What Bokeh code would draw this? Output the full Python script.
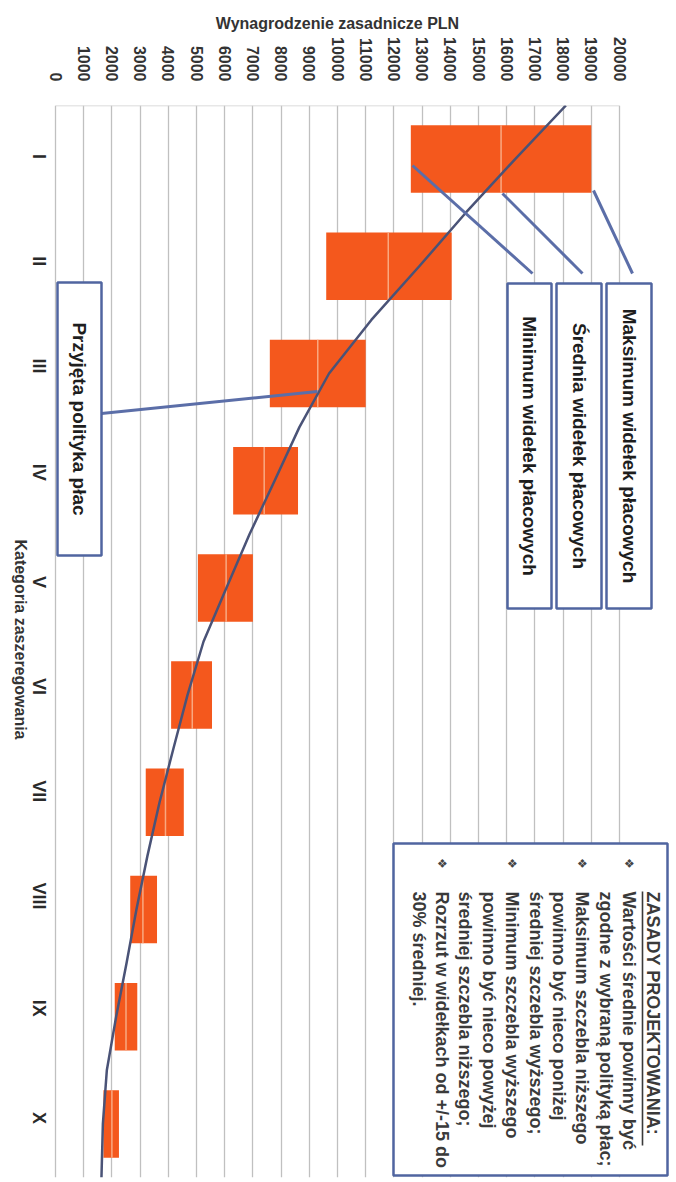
import math
from bokeh.plotting import figure
from bokeh.models import Range1d, FixedTicker, Label, LinearAxis
from bokeh.embed import file_html
from bokeh.resources import INLINE

# ---------------- data ----------------
categories = ["I", "II", "III", "IV", "V", "VI", "VII", "VIII", "IX", "X"]
range_min = [12600, 9600, 7600, 6300, 5050, 4100, 3200, 2650, 2100, 1700]
range_avg = [15800, 11800, 9300, 7400, 6050, 4850, 3900, 3100, 2500, 2000]
range_max = [19000, 14050, 11000, 8600, 7000, 5550, 4550, 3600, 2900, 2250]
# accepted pay-policy curve, read at every half category (0.5 ... 10.5)
policy_pos = [0.5, 1, 1.5, 2, 2.5, 3, 3.5, 4, 4.5, 5, 5.5, 6, 6.5, 7, 7.5, 8, 8.5, 9, 9.5, 10, 10.5]
policy_val = [18100, 16300, 14550, 12900, 11200, 9700, 8650, 7770, 6880, 6060, 5250,
              4680, 4180, 3690, 3260, 2870, 2520, 2150, 1820, 1680, 1630]
salary_ticks = [0, 1000, 2000, 3000, 4000, 5000, 6000, 7000, 8000, 9000, 10000,
                11000, 12000, 13000, 14000, 15000, 16000, 17000, 18000, 19000, 20000]
cat_pos = [1, 2, 3, 4, 5, 6, 7, 8, 9, 10]

x_title = "Wynagrodzenie zasadnicze PLN"
y_title = "Kategoria zaszeregowania"

rules_lines = [
    "ZASADY PROJEKTOWANIA:",
    "Wartości średnie powinny być",
    "zgodne z wybraną polityką płac;",
    "Maksimum szczebla niższego",
    "powinno być nieco poniżej",
    "średniej szczebla wyższego;",
    "Minimum szczebla wyższego",
    "powinno być nieco powyżej",
    "średniej szczebla niższego;",
    "Rozrzut w widełkach od +/-15 do",
    "30% średniej.",
]
bullet_lines = [1, 3, 6, 9]

# ---------------- layout ----------------
W, H = 676, 1182
ZERO_PX = 55                 # pixel column of salary 0
FL, FR, FT, FB = 44, 672, 105, 1177   # frame edges (frame starts a bit left of 0)
PX_PER_K = 28.2
PX_PER_CAT = (FB - FT) / 10.0


def dx(px):
    return (px - ZERO_PX) / PX_PER_K * 1000.0


def dy(py):
    return 0.5 + (py - FT) / PX_PER_CAT


ORANGE = "#F4581D"
BOX_BLUE = "#5065A0"
LEAD_BLUE = "#5B6EA8"
FONT = "Liberation Sans"

p = figure(width=W, height=H, x_range=Range1d(dx(FL), dx(FR)), y_range=Range1d(10.5, 0.5),
           x_axis_location="above", output_backend="svg", toolbar_location=None,
           min_border_left=FL, min_border_right=W - FR, min_border_top=FT,
           min_border_bottom=H - FB)
p.outline_line_color = None
p.background_fill_color = "white"


def plain_axis(ax):
    ax.axis_line_color = None
    ax.major_tick_line_color = None
    ax.minor_tick_line_color = None
    ax.major_label_text_font = FONT
    ax.major_label_text_font_style = "bold"


# salary axis (top)
xa = p.xaxis[0]
xa.ticker = FixedTicker(ticks=salary_ticks)
plain_axis(xa)
xa.major_label_orientation = -math.pi / 2
xa.major_label_standoff = 18
xa.major_label_text_font_size = "16px"
xa.major_label_text_color = "#333333"

# salary axis title, centred on the 0..20000 scale
x_mid = (salary_ticks[0] + salary_ticks[-1]) / 2
xt = LinearAxis(ticker=FixedTicker(ticks=[x_mid]), major_label_overrides={x_mid: x_title})
plain_axis(xt)
xt.major_label_standoff = -3
xt.major_label_text_font_size = "16px"
xt.major_label_text_color = "#333333"
p.add_layout(xt, "above")

# category axis (left)
ya = p.yaxis[0]
ya.ticker = FixedTicker(ticks=cat_pos)
ya.major_label_overrides = {pos: c for pos, c in zip(cat_pos, categories)}
plain_axis(ya)
ya.major_label_orientation = -math.pi / 2
ya.major_label_standoff = 0
ya.major_label_text_line_height = 0.8
ya.major_label_text_font_size = "18px"
ya.major_label_text_color = "#2a2a2a"

# category axis title, reading top-to-bottom like the other rotated texts;
# the rotated label ends at its anchor, so the anchor sits half a title length
# below the middle of the plot (pixel row 641)
y_title_at = dy(641 + 98)
yt = LinearAxis(ticker=FixedTicker(ticks=[y_title_at]),
                major_label_overrides={y_title_at: y_title})
plain_axis(yt)
yt.major_label_orientation = -math.pi / 2
yt.major_label_standoff = -11
yt.major_label_text_line_height = 0.8
yt.major_label_text_font_size = "16px"
yt.major_label_text_color = "#333333"
p.add_layout(yt, "left")

p.xgrid.ticker = FixedTicker(ticks=salary_ticks)
p.xgrid.grid_line_color = "#c0c0c0"
p.xgrid.grid_line_width = 1.3
p.ygrid.grid_line_color = None

# top border of the plot area
p.segment(x0=[salary_ticks[0]], x1=[salary_ticks[-1]], y0=[0.5], y1=[0.5],
          line_color="#cfcfcf", line_width=1.3)

# salary ranges
BAR_H = 0.63
p.hbar(y=cat_pos, left=range_min, right=range_avg, height=BAR_H,
       fill_color=ORANGE, line_color=None)
p.hbar(y=cat_pos, left=range_avg, right=range_max, height=BAR_H,
       fill_color=ORANGE, line_color=None)
p.segment(x0=range_avg, x1=range_avg,
          y0=[c - BAR_H / 2 for c in cat_pos], y1=[c + BAR_H / 2 for c in cat_pos],
          line_color="#F9A880", line_width=1.5)

# pay-policy curve
p.line(x=policy_val, y=policy_pos, line_color="#4A5377", line_width=2.5,
       line_join="round")

# leader lines (pixel anchors converted to data space)
leaders = [((593, 190), (632, 273)),   # maksimum
           ((502, 193), (582, 273)),   # srednia
           ((412, 165), (532, 273)),   # minimum
           ((317, 391), (101, 413))]   # polityka
p.segment(x0=[dx(a[0]) for a, b in leaders], y0=[dy(a[1]) for a, b in leaders],
          x1=[dx(b[0]) for a, b in leaders], y1=[dy(b[1]) for a, b in leaders],
          line_color=LEAD_BLUE, line_width=3)

# callout boxes
boxes = [(606, 651, 283, 608, "Maksimum widełek płacowych"),
         (556, 601, 283, 608, "Średnia widełek płacowych"),
         (507, 551, 283, 608, "Minimum widełek płacowych"),
         (57, 101, 282, 555, "Przyjęta polityka płac")]
p.quad(left=[dx(b[0]) for b in boxes], right=[dx(b[1]) for b in boxes],
       top=[dy(b[2]) for b in boxes], bottom=[dy(b[3]) for b in boxes],
       fill_color="white", line_color=BOX_BLUE, line_width=2.5)
for l, r, t, b, txt in boxes:
    p.add_layout(Label(x=dx((l + r) / 2), y=dy((t + b) / 2), text=txt,
                       angle=-math.pi / 2, text_align="center", text_baseline="middle",
                       text_font=FONT, text_font_style="bold",
                       text_font_size="19px", text_color="#1e1e1e"))

# rules box
RB = (393, 667, 843, 1175)
p.quad(left=[dx(RB[0])], right=[dx(RB[1])], top=[dy(RB[2])], bottom=[dy(RB[3])],
       fill_color="white", line_color=BOX_BLUE, line_width=2.5)
LINE0_X, LINE_STEP, TEXT_Y = 652, 23.4, 891
for i, line in enumerate(rules_lines):
    cx = LINE0_X - LINE_STEP * i
    p.add_layout(Label(x=dx(cx), y=dy(TEXT_Y), text=line, angle=-math.pi / 2,
                       text_align="left", text_baseline="middle",
                       text_font=FONT, text_font_style="bold",
                       text_font_size="18px", text_color="#3a3a3a"))
    if i in bullet_lines:
        p.add_layout(Label(x=dx(cx), y=dy(863), text="❖", angle=-math.pi / 2,
                           text_align="center", text_baseline="middle",
                           text_font="DejaVu Sans", text_font_size="12px",
                           text_color="#444444"))
# underline of the title
p.segment(x0=[dx(LINE0_X - 10)], x1=[dx(LINE0_X - 10)], y0=[dy(TEXT_Y)], y1=[dy(TEXT_Y + 254)],
          line_color="#3a3a3a", line_width=1.6)

open("out.html", "w").write(file_html(p, INLINE))
